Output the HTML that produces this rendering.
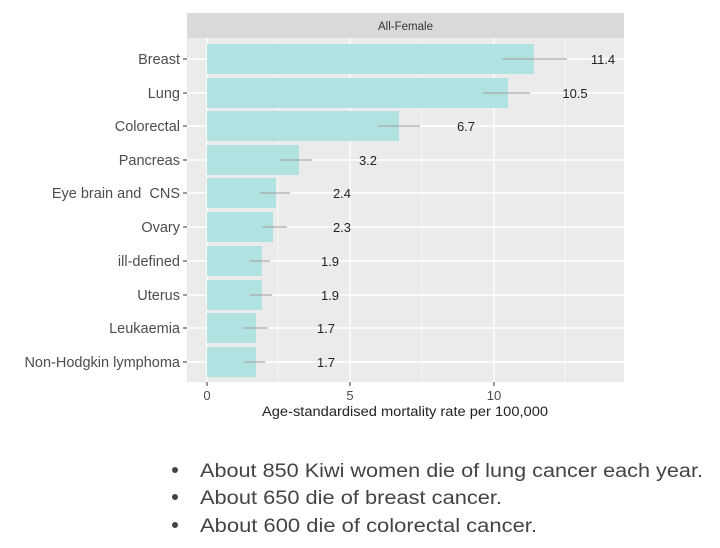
<!DOCTYPE html>
<html><head><style>
body{margin:0;background:#fff;width:720px;height:548px;overflow:hidden;font-family:"Liberation Sans",sans-serif}
</style></head><body>
<svg width="720" height="548" style="position:absolute;left:0;top:0" font-family="Liberation Sans, sans-serif">
<rect x="187" y="13" width="437" height="25" fill="#d9d9d9"/>
<text x="405.5" y="30" font-size="11.5" fill="#333" text-anchor="middle">All-Female</text>
<rect x="187" y="38" width="437" height="344" fill="#ebebeb"/>
<g stroke="#fff" stroke-width="0.7">
<line x1="278" y1="38" x2="278" y2="382"/><line x1="422" y1="38" x2="422" y2="382"/><line x1="565" y1="38" x2="565" y2="382"/>
</g>
<g stroke="#fff" stroke-width="1.4">
<line x1="207" y1="38" x2="207" y2="382"/><line x1="350" y1="38" x2="350" y2="382"/><line x1="494" y1="38" x2="494" y2="382"/>
<line x1="187" y1="59" x2="624" y2="59"/><line x1="187" y1="93" x2="624" y2="93"/><line x1="187" y1="126" x2="624" y2="126"/><line x1="187" y1="160" x2="624" y2="160"/><line x1="187" y1="193" x2="624" y2="193"/><line x1="187" y1="227" x2="624" y2="227"/><line x1="187" y1="261" x2="624" y2="261"/><line x1="187" y1="295" x2="624" y2="295"/><line x1="187" y1="328" x2="624" y2="328"/><line x1="187" y1="362" x2="624" y2="362"/>
</g>
<g fill="#b0e2e2">
<rect x="207" y="44" width="327" height="30"/>
<rect x="207" y="78" width="301" height="30"/>
<rect x="207" y="111" width="192" height="30"/>
<rect x="207" y="145" width="92" height="30"/>
<rect x="207" y="178" width="69" height="30"/>
<rect x="207" y="212" width="66" height="30"/>
<rect x="207" y="246" width="55" height="30"/>
<rect x="207" y="280" width="55" height="30"/>
<rect x="207" y="313" width="49" height="30"/>
<rect x="207" y="347" width="49" height="30"/>
</g>
<g stroke="#aaa" stroke-width="1.2">
<line x1="502" y1="59" x2="567" y2="59"/><line x1="483" y1="93" x2="530" y2="93"/><line x1="378" y1="126" x2="420" y2="126"/><line x1="280" y1="160" x2="312" y2="160"/><line x1="260" y1="193" x2="290" y2="193"/><line x1="262" y1="227" x2="287" y2="227"/><line x1="250" y1="261" x2="270" y2="261"/><line x1="250" y1="295" x2="272" y2="295"/><line x1="243" y1="328" x2="268" y2="328"/><line x1="244" y1="362" x2="265" y2="362"/>
</g>
<g font-size="13" fill="#222" text-anchor="middle">
<text x="603" y="64">11.4</text><text x="575" y="98">10.5</text><text x="466" y="131">6.7</text><text x="368" y="165">3.2</text><text x="342" y="198">2.4</text><text x="342" y="232">2.3</text><text x="330" y="266">1.9</text><text x="330" y="300">1.9</text><text x="326" y="333">1.7</text><text x="326" y="367">1.7</text>
</g>
<g font-size="14.5" fill="#4d4d4d" text-anchor="end">
<text x="180" y="64">Breast</text><text x="180" y="98">Lung</text><text x="180" y="131">Colorectal</text><text x="180" y="165">Pancreas</text><text x="180" y="198">Eye brain and&#160; CNS</text><text x="180" y="232">Ovary</text><text x="180" y="266">ill-defined</text><text x="180" y="300">Uterus</text><text x="180" y="333">Leukaemia</text><text x="180" y="367">Non-Hodgkin lymphoma</text>
</g>
<g stroke="#333" stroke-width="1">
<line x1="183" y1="59" x2="187" y2="59"/><line x1="183" y1="93" x2="187" y2="93"/><line x1="183" y1="126" x2="187" y2="126"/><line x1="183" y1="160" x2="187" y2="160"/><line x1="183" y1="193" x2="187" y2="193"/><line x1="183" y1="227" x2="187" y2="227"/><line x1="183" y1="261" x2="187" y2="261"/><line x1="183" y1="295" x2="187" y2="295"/><line x1="183" y1="328" x2="187" y2="328"/><line x1="183" y1="362" x2="187" y2="362"/>
<line x1="207" y1="382" x2="207" y2="386"/><line x1="350" y1="382" x2="350" y2="386"/><line x1="494" y1="382" x2="494" y2="386"/>
</g>
<g font-size="13" fill="#4d4d4d" text-anchor="middle">
<text x="207" y="400">0</text><text x="350" y="400">5</text><text x="494" y="400">10</text>
</g>
<text x="262" y="416" font-size="13.5" fill="#222" textLength="286" lengthAdjust="spacingAndGlyphs">Age-standardised mortality rate per 100,000</text>
<g font-size="19" fill="#444">
<circle cx="175" cy="470" r="3" fill="#444"/><text x="200" y="477" textLength="503" lengthAdjust="spacingAndGlyphs">About 850 Kiwi women die of lung cancer each year.</text>
<circle cx="175" cy="497" r="3" fill="#444"/><text x="200" y="504" textLength="302" lengthAdjust="spacingAndGlyphs">About 650 die of breast cancer.</text>
<circle cx="175" cy="525" r="3" fill="#444"/><text x="200" y="532" textLength="337" lengthAdjust="spacingAndGlyphs">About 600 die of colorectal cancer.</text>
</g>
</svg>
</body></html>
